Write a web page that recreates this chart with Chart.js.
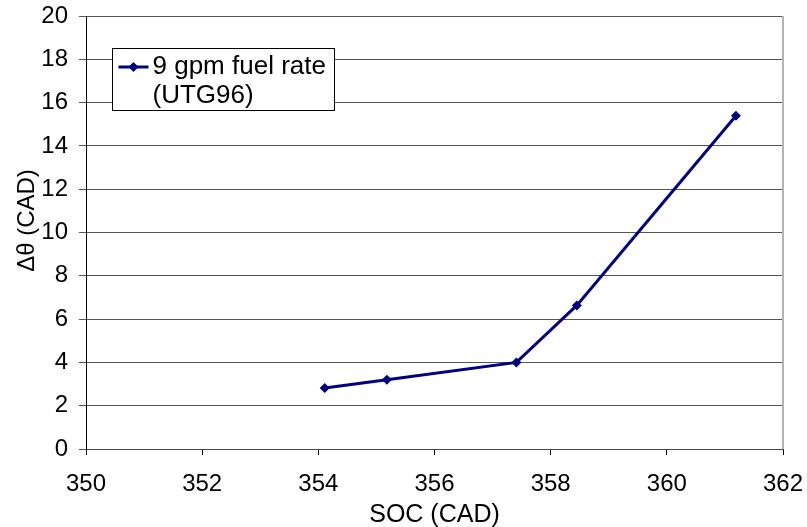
<!DOCTYPE html>
<html>
<head>
<meta charset="utf-8">
<script src="https://cdn.jsdelivr.net/npm/chart.js@4/dist/chart.umd.min.js"></script>
<style>
  html, body { margin: 0; padding: 0; background: #fff; }
  #wrap { width: 807px; height: 527px; }
</style>
</head>
<body>
<div id="wrap"><canvas id="socChart" width="807" height="527"></canvas></div>
<script>
// start of combustion vs. delta theta, 9 gpm fuel rate
const socValues = [354.11, 355.18, 357.41, 358.45, 361.19];
const deltaTheta = [2.82, 3.20, 4.00, 6.63, 15.39];
const seriesLabel = ['9 gpm fuel rate', '(UTG96)'];
const xTicks = [350, 352, 354, 356, 358, 360, 362];
const yTicks = [0, 2, 4, 6, 8, 10, 12, 14, 16, 18, 20];
const yTitle = 'Δθ (CAD)';

const FONT = "'Liberation Sans', Arial, sans-serif";
const LINE_COLOR = '#000080';

// box legend in the upper left of the plot, y title, light right border
const boxLegend = {
    id: 'boxLegend',
    afterDraw(chart) {
        const ctx = chart.ctx;
        const area = chart.chartArea;
        const ds = chart.data.datasets[0];

        ctx.save();
        ctx.strokeStyle = '#b4b4b4';
        ctx.lineWidth = 2;
        ctx.beginPath();
        ctx.moveTo(area.right, area.top);
        ctx.lineTo(area.right, area.bottom);
        ctx.stroke();

        // y axis title sits a little above the middle of the axis
        ctx.fillStyle = '#000';
        ctx.font = '24px ' + FONT;
        ctx.textAlign = 'center';
        ctx.textBaseline = 'middle';
        ctx.translate(27, (area.top + area.bottom) / 2 - 12);
        ctx.rotate(-Math.PI / 2);
        ctx.fillText(yTitle, 0, 0);
        ctx.setTransform(1, 0, 0, 1, 0, 0);

        const bx = Math.round(area.left + 26) + 0.5;
        const by = Math.round(area.top + 32) + 0.5;
        const bw = 222, bh = 62;
        ctx.fillStyle = '#fff';
        ctx.fillRect(bx, by, bw, bh);
        ctx.strokeStyle = '#000';
        ctx.lineWidth = 1;
        ctx.strokeRect(bx, by, bw, bh);

        const ly = by + 18.5;
        ctx.strokeStyle = ds.borderColor;
        ctx.lineWidth = 3;
        ctx.beginPath();
        ctx.moveTo(bx + 6, ly);
        ctx.lineTo(bx + 36, ly);
        ctx.stroke();
        ctx.fillStyle = ds.borderColor;
        ctx.beginPath();
        ctx.moveTo(bx + 21, ly - 5);
        ctx.lineTo(bx + 26, ly);
        ctx.lineTo(bx + 21, ly + 5);
        ctx.lineTo(bx + 16, ly);
        ctx.closePath();
        ctx.fill();

        ctx.fillStyle = '#000';
        ctx.font = '26px ' + FONT;
        ctx.textBaseline = 'middle';
        ctx.textAlign = 'left';
        ds.label.forEach((t, i) => ctx.fillText(t, bx + 40, ly + i * 29));
        ctx.restore();
    }
};

new Chart(document.getElementById('socChart').getContext('2d'), {
    type: 'scatter',
    data: {
        datasets: [{
            label: seriesLabel,
            data: socValues.map((x, i) => ({ x: x, y: deltaTheta[i] })),
            showLine: true,
            borderColor: LINE_COLOR,
            backgroundColor: LINE_COLOR,
            borderWidth: 3,
            pointStyle: 'rectRot',
            pointRadius: 5,
            pointBorderWidth: 0,
            tension: 0
        }]
    },
    options: {
        responsive: false,
        animation: false,
        layout: { padding: { left: 0, top: 16, right: 24, bottom: 0 } },
        plugins: {
            legend: { display: false },
            tooltip: { enabled: false }
        },
        scales: {
            x: {
                type: 'linear',
                min: 350,
                max: 362,
                afterBuildTicks: s => { s.ticks = xTicks.map(v => ({ value: v })); },
                afterFit: s => { s.height = 78; s.paddingLeft = 0; s.paddingRight = 0; },
                grid: { drawOnChartArea: false, drawTicks: true, tickLength: 6, color: '#000' },
                border: { display: true, color: '#444', width: 1 },
                ticks: { color: '#000', font: { family: FONT, size: 24 }, padding: 15, maxRotation: 0 },
                title: {
                    display: true,
                    text: 'SOC (CAD)',
                    color: '#000',
                    font: { family: FONT, size: 25 },
                    padding: { top: 0, bottom: -3 }
                }
            },
            y: {
                type: 'linear',
                min: 0,
                max: 20,
                afterBuildTicks: s => { s.ticks = yTicks.map(v => ({ value: v })); },
                afterFit: s => { s.width = 86; s.paddingTop = 0; s.paddingBottom = 0; },
                grid: { color: '#555', lineWidth: 1, drawTicks: true, tickLength: 7 },
                border: { display: true, color: '#000', width: 1 },
                ticks: { color: '#000', font: { family: FONT, size: 24 }, padding: 11 }
            }
        }
    },
    plugins: [boxLegend]
});
</script>
</body>
</html>
